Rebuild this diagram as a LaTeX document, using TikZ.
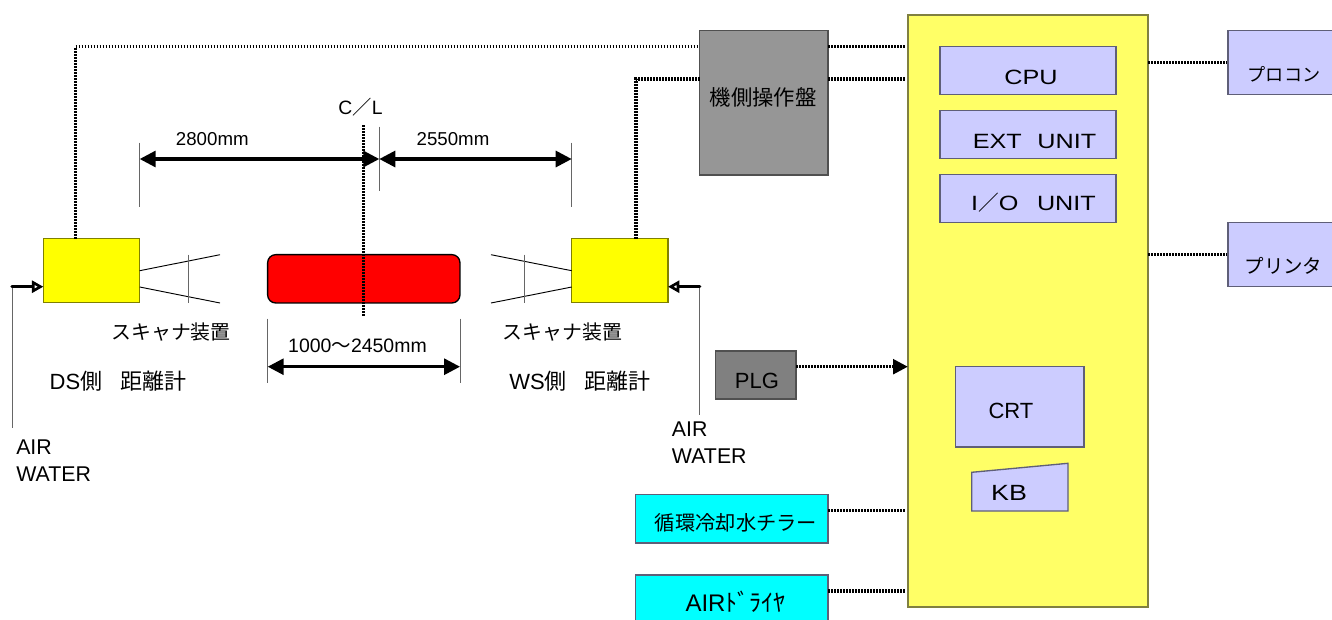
\documentclass[tikz,border=0pt]{standalone}
\usepackage{fontspec}
\setmainfont{Liberation Sans}
\newfontfamily\cjk{Noto Sans CJK JP}
\newfontfamily\wide[FakeStretch=1.22]{Liberation Sans}
\usetikzlibrary{arrows.meta}
\definecolor{panelyellow}{HTML}{FFFF66}
\definecolor{panelline}{HTML}{808040}
\definecolor{scanyellow}{HTML}{FFFF00}
\definecolor{scanline}{HTML}{808000}
\definecolor{chillcyan}{HTML}{00FFFF}
\definecolor{slabred}{HTML}{FF0000}
\definecolor{unitblue}{HTML}{CCCCFF}
\definecolor{unitline}{HTML}{5F5F78}
\definecolor{opgray}{HTML}{969696}
\definecolor{plggray}{HTML}{808080}
\definecolor{boxline}{HTML}{505050}
\definecolor{thinline}{HTML}{666666}
\tikzset{
  wh/.style 2 args={minimum width=#1*0.75pt,minimum height=#2*0.75pt},
  box/.style={draw=#1,line width=1pt,inner sep=0pt,outer sep=0pt},
  unit/.style={box=unitline,fill=unitblue},
  scanner/.style={box=scanline,fill=scanyellow,wh={96.4}{64}},
  chiller/.style={box=unitline,fill=chillcyan,wh={192.3}{48.3}},
  tag/.style={inner sep=0pt,font=\fontsize{#1}{#1}\selectfont},
  tag/.default=14pt,
  widetag/.style={inner sep=0pt,font=\wide\fontsize{#1}{#1}\selectfont},
  widetag/.default=15.5pt,
  feedtag/.style={inner sep=0pt,anchor=west,align=left,font=\fontsize{16pt}{20.3pt}\selectfont},
  sig/.style={line width=2.3pt,dash pattern=on 1.25pt off 1pt},
  dim/.style={line width=2.3pt,{Triangle[length=12pt,width=12pt]}-{Triangle[length=12pt,width=12pt]}},
  feed/.style={line width=2.6pt,line cap=round,-{Triangle[open,fill=white,length=8.5pt,width=9pt,line width=2pt]}},
  thinl/.style={line width=0.7pt,color=thinline},
}
\begin{document}
\begin{tikzpicture}[x=0.75pt,y=-0.75pt]
  \path[use as bounding box,clip] (0,0) rectangle (1332,619);

  \node[box=panelline,fill=panelyellow,line width=1.2pt,wh={240}{592}] (panel) at (1027.8,311) {};
  \node[unit,wh={176}{48}] (cpu) at (1028,70.8) {};
  \node[unit,wh={176}{48}] (ext) at (1028,134.8) {};
  \node[unit,wh={176}{48}] (io) at (1028,198.8) {};
  \node[unit,wh={128.3}{80.3}] (crt) at (1019.8,406.8) {};
  \draw[unit] (971.7,472.3) -- (1068,463.3) -- (1068,511) -- (971.7,511) -- cycle;
  \node[unit,wh={150}{64}] (procon) at (1303,62.7) {};
  \node[unit,wh={150}{64}] (printer) at (1303,254.7) {};

  \node[box=boxline,fill=opgray,wh={128.3}{144.3}] (op) at (763.8,102.8) {};
  \node[box=boxline,fill=plggray,wh={80.3}{48}] (plg) at (755.8,375) {};
  \node[chiller] (chill) at (731.8,518.8) {};
  \node[chiller] (dryer) at (731.8,599.2) {};

  \node[scanner] (ds) at (91.5,270.7) {};
  \node[scanner] (ws) at (619.8,270.7) {};
  \node[box=black,fill=slabred,rounded corners=6pt,wh={192.3}{48.3}] (slab) at (363.8,278.8) {};

  % scanner heads
  \draw[thinl,black] (139.7,270.7) -- (220,254.7) (139.7,287) -- (220,303);
  \draw[thinl] (188,254.7) -- (188,303);
  \draw[thinl,black] (571.7,270.7) -- (491,254.7) (571.7,287) -- (491,303);
  \draw[thinl] (524,254.7) -- (524,303);

  % signal lines
  \coordinate (dsup) at (75.7,238.7);
  \coordinate (wsup) at (636,238.7);
  \coordinate (opa) at (699.7,46.7);
  \coordinate (opb) at (699.7,79);
  \draw[sig] (dsup) |- (opa);
  \draw[sig] (wsup) |- (opb);
  \foreach \y in {46.7,79} {
    \draw[sig] (828,\y) -- (905,\y);
  }
  \foreach \y in {510.7,591} {
    \draw[sig] (828,\y) -- (906,\y);
  }
  \foreach \y in {62.7,254.7} {
    \draw[sig] (1148,\y) -- (1227,\y);
  }
  \draw[sig,-{Triangle[length=11pt,width=11pt]}] (plg.east |- 0,366.7) -- (panel.west |- 0,366.7);

  % centre line and dimensions
  \coordinate (clt) at (363.7,125);
  \coordinate (clb) at (363.7,316);
  \draw[sig] (clt) -- (clb);
  \foreach \x/\t/\b in {139.7/142.7/206.7,379.3/126.7/190.7,571.7/142.7/206.7,267.7/318.7/382.7,460/318.7/382.7} {
    \draw[thinl] (\x,\t) -- (\x,\b);
  }
  \coordinate (da) at (139.7,159);
  \coordinate (db) at (379.3,159);
  \coordinate (dc) at (571.7,159);
  \coordinate (dd) at (267.7,366.7);
  \coordinate (de) at (460,366.7);
  \draw[dim] (da) -- (db);
  \draw[dim] (db) -- (dc);
  \draw[dim] (dd) -- (de);

  % air and water feeds
  \coordinate (airl) at (12,286.7);
  \coordinate (airle) at (12,428);
  \coordinate (airr) at (699.7,286.7);
  \coordinate (airre) at (699.7,414.7);
  \draw[thinl] (airl) -- (airle);
  \draw[thinl] (airr) -- (airre);
  \draw[feed] (airl) -- (ds.west |- airl);
  \draw[feed] (airr) -- (ws.east |- airr);

  % texts
  \node[tag=14.5pt] (cltext) at (360.5,107) {C{\cjk ／}L};
  \node[tag] (dimleft) at (212.3,139) {2800mm};
  \node[tag] (dimright) at (453,139) {2550mm};
  \node[tag=14.6pt] (dimslab) at (357.5,346) {1000{\cjk ～}2450mm};
  \node[tag=14.9pt] (scanleft) at (171,332) {\cjk スキャナ装置};
  \node[tag=14.9pt] (scanright) at (562.5,332) {\cjk スキャナ装置};
  \node[tag=16.5pt] (dsname) at (118,381) {DS{\cjk 側}\hspace{13.5pt}{\cjk 距離計}};
  \node[tag=16.5pt] (wsname) at (580,381) {WS{\cjk 側}\hspace{13.5pt}{\cjk 距離計}};
  \node[feedtag] (airltext) at (16,460.5) {AIR\\WATER};
  \node[feedtag] (airrtext) at (671.7,443) {AIR\\WATER};
  \node[tag=16pt] (optext) at (763,97) {\cjk 機側操作盤};
  \node[tag=16.5pt] (plgtext) at (757,381) {PLG};
  \node[tag=15.2pt] (chilltext) at (736,523) {\cjk 循環冷却水チラー};
  \node[tag=18pt] (dryertext) at (735.5,602) {AIR{\cjk ﾄﾞﾗｲﾔ}};
  \node[widetag] (cputext) at (1031,77) {CPU};
  \node[widetag] (exttext) at (1034.5,141) {EXT\hspace{0.75em}UNIT};
  \node[widetag] (iotext) at (1033.5,203) {I{\cjk ／}O\hspace{0.9em}UNIT};
  \node[tag=16.5pt] (crttext) at (1011,411) {CRT};
  \node[widetag=16.5pt] (kbtext) at (1009,493) {KB};
  \node[tag=13.6pt] (procontext) at (1284,74) {\cjk プロコン};
  \node[tag=14.6pt] (printertext) at (1283.5,266) {\cjk プリンタ};
\end{tikzpicture}
\end{document}
